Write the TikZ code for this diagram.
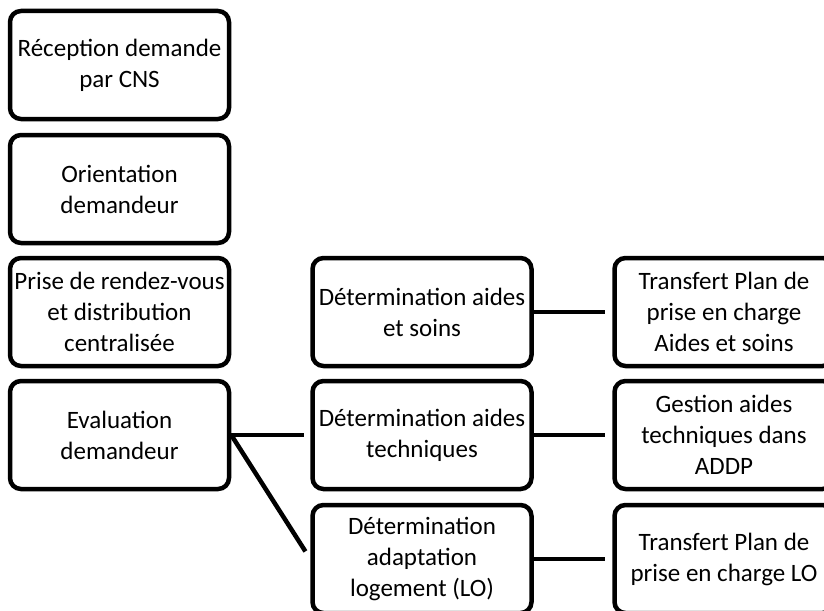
\documentclass[tikz,border=0pt]{standalone}
\usepackage{fontspec}
\setmainfont{Carlito}
\usepackage{tikz}

\begin{document}
\begin{tikzpicture}[x=1pt,y=1pt]
        \tikzstyle{box}=[draw=black, line width=4.5pt, rounded corners=11pt, minimum width=219pt, minimum height=108pt, inner sep=0pt, align=center, font=\fontsize{25}{31}\selectfont]
        \tikzstyle{link}=[black, line width=4.5pt]
        \clip (0,0) rectangle (824,-610);
        \node [box] (recep) at (119.5,-65) {Réception demande\\par CNS};
        \node [box] (orient) at (119.5,-189) {Orientation\\demandeur};
        \node [box] (rdv) at (119.5,-312) {Prise de rendez-vous\\et distribution\\centralisée};
        \node [box] (eval) at (119.5,-435) {Evaluation\\demandeur};
        \node [box] (dsoins) at (422,-312) {Détermination aides\\et soins};
        \node [box] (dtech) at (422,-435) {Détermination aides\\techniques};
        \node [box] (dlog) at (422,-559) {Détermination\\adaptation\\logement (LO)};
        \node [box] (tsoins) at (724,-312) {Transfert Plan de\\prise en charge\\Aides et soins};
        \node [box] (gtech) at (724,-435) {Gestion aides\\techniques dans\\ADDP};
        \node [box] (tlog) at (724,-559) {Transfert Plan de\\prise en charge LO};
        \draw [link, shorten >=6pt] (eval.east) -- (dtech.west);
        \draw [link, shorten >=9pt] (eval.east) -- (dlog.west);
        \draw [link, shorten >=7pt] (dsoins.east) -- (tsoins.west);
        \draw [link, shorten >=7pt] (dtech.east) -- (gtech.west);
        \draw [link, shorten >=7pt] (dlog.east) -- (tlog.west);
    \end{tikzpicture}
\end{document}
